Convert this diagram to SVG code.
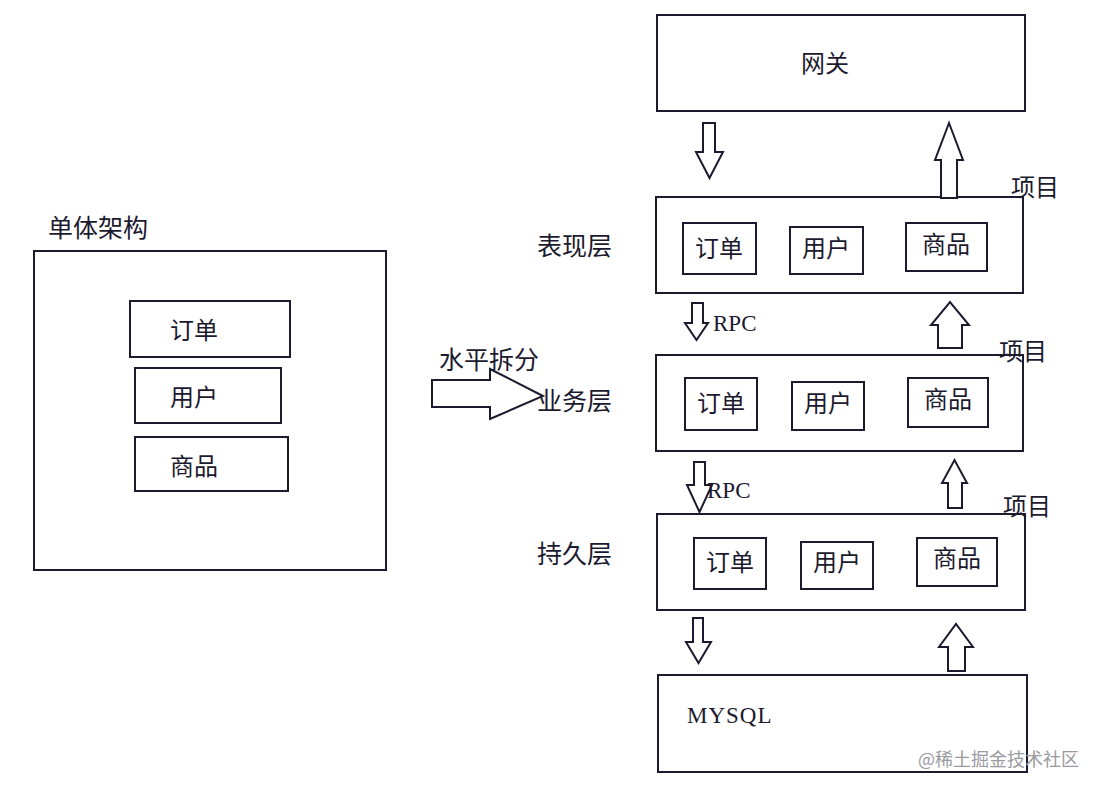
<svg xmlns="http://www.w3.org/2000/svg" width="1100" height="792" viewBox="0 0 1100 792">
<style>
.box{fill:#fff;stroke:#1c1a2e;stroke-width:2}
.arr{fill:#fff;stroke:#1c1a2e;stroke-width:2;stroke-linejoin:miter}
.t{font-family:"Noto Sans CJK SC","Noto Sans",sans-serif;font-size:24px;fill:#1c1a2e}
.lbl{font-family:"Noto Sans CJK SC","Noto Sans",sans-serif;font-size:25px;fill:#1c1a2e}
.s{font-family:"Liberation Serif",serif;font-size:23px;fill:#1c1a2e}
.c{text-anchor:middle}
</style>
<rect width="1100" height="792" fill="#fff"/>
<g id="mono">
<text class="lbl" x="48" y="237">单体架构</text>
<rect class="box" x="34" y="251" width="352" height="319"/>
<g id="mono-order"><rect class="box" x="130" y="301" width="160" height="56"/><text class="t c" x="194" y="339">订单</text></g>
<g id="mono-user"><rect class="box" x="135" y="368" width="146" height="55"/><text class="t c" x="194" y="406">用户</text></g>
<g id="mono-goods"><rect class="box" x="135" y="437" width="153" height="54"/><text class="t c" x="194" y="475">商品</text></g>
</g>
<g id="gateway"><rect class="box" x="657" y="15" width="368" height="96"/><text class="t c" x="825" y="72">网关</text></g>
<g id="presentation">
<text class="lbl" x="537" y="255">表现层</text>
<rect class="box" x="656" y="197" width="367" height="96"/>
<rect class="box" x="683" y="223" width="73" height="51"/><text class="t c" x="719" y="257">订单</text>
<rect class="box" x="790" y="227" width="73" height="47"/><text class="t c" x="826" y="257">用户</text>
<rect class="box" x="906" y="223" width="81" height="48"/><text class="t c" x="946" y="253">商品</text>
</g>
<g id="business">
<text class="lbl" x="537" y="410">业务层</text>
<rect class="box" x="656" y="355" width="367" height="96"/>
<rect class="box" x="685" y="378" width="72" height="52"/><text class="t c" x="721" y="412">订单</text>
<rect class="box" x="792" y="382" width="72" height="48"/><text class="t c" x="828" y="412">用户</text>
<rect class="box" x="908" y="378" width="80" height="49"/><text class="t c" x="948" y="408">商品</text>
</g>
<g id="persistence">
<text class="lbl" x="537" y="563">持久层</text>
<rect class="box" x="657" y="514" width="368" height="96"/>
<rect class="box" x="694" y="538" width="72" height="51"/><text class="t c" x="730" y="571">订单</text>
<rect class="box" x="801" y="542" width="72" height="47"/><text class="t c" x="837" y="571">用户</text>
<rect class="box" x="917" y="538" width="80" height="48"/><text class="t c" x="957" y="567">商品</text>
</g>
<g id="mysql"><rect class="box" x="658" y="675" width="369" height="97"/><text class="s" x="687" y="723" font-size="22" letter-spacing="1">MYSQL</text></g>
<g id="connectors">
<polygon class="arr" points="432,380 490,380 490,369 543,396 490,419 490,407 432,407"/>
<polygon class="arr" points="703,123 715,123 715,152 723,152 709.5,178 696,152 703,152"/>
<polygon class="arr" points="941,198 957,198 957,160 963,160 949,123 935,160 941,160"/>
<polygon class="arr" points="692,303 703,303 703,323 708,323 696.5,340 685,323 692,323"/>
<polygon class="arr" points="938,348 962,348 962,325 969,325 950,302 931,325 938,325"/>
<polygon class="arr" points="694,462 705,462 705,485 712,485 699.5,512 687,485 694,485"/>
<polygon class="arr" points="948,508 962,508 962,483 967,483 954.5,460 942,483 948,483"/>
<polygon class="arr" points="693,618 703,618 703,642 711,642 698.5,663 686,642 693,642"/>
<polygon class="arr" points="948,671 965,671 965,647 973,647 956,624 939,647 948,647"/>
</g>
<text class="lbl" x="439" y="369">水平拆分</text>
<text class="s" x="713" y="331">RPC</text>
<text class="s" x="707" y="498">RPC</text>
<text class="t" x="1011" y="196">项目</text>
<text class="t" x="999" y="360">项目</text>
<text class="t" x="1003" y="515">项目</text>
<text x="918" y="766" font-family="'Noto Sans CJK SC',sans-serif" font-size="18" fill="#9a9aa0">@稀土掘金技术社区</text>
</svg>
